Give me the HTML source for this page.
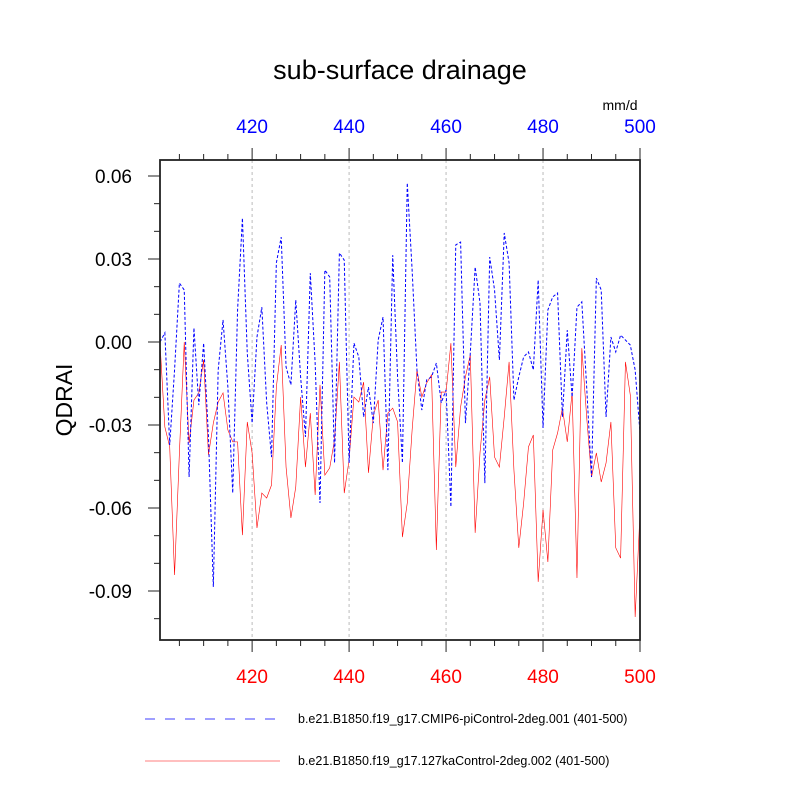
<!DOCTYPE html>
<html><head><meta charset="utf-8"><style>
html,body{margin:0;padding:0;background:#fff;}
svg{display:block;font-family:"Liberation Sans",sans-serif;}
</style></head><body>
<svg id="chart" width="800" height="800" viewBox="0 0 800 800">
<text x="400" y="79" text-anchor="middle" font-size="27">sub-surface drainage</text>
<text x="620" y="110" text-anchor="middle" font-size="14">mm/d</text>
<text transform="translate(72,400) rotate(-90)" text-anchor="middle" font-size="23">QDRAI</text>
<g id="grid"></g><g id="series"></g><g id="axes"></g>
<g>
<line x1="145" y1="719" x2="278" y2="719" stroke="#0000ff" stroke-width="0.8" stroke-dasharray="10,10"/>
<text x="298" y="723" font-size="12.5">b.e21.B1850.f19_g17.CMIP6-piControl-2deg.001 (401-500)</text>
<line x1="145" y1="761" x2="280" y2="761" stroke="#ff0000" stroke-width="0.6"/>
<text x="298" y="765" font-size="12.5">b.e21.B1850.f19_g17.127kaControl-2deg.002 (401-500)</text>
</g>
</svg>
<script>
const years = Array.from({length:100},(_,i)=>401+i);
const blueVals=[0,0.0033,-0.0372,-0.0101,0.0213,0.0188,-0.0488,0.0051,-0.0228,-0.0004,-0.0343,-0.0885,-0.0101,0.0080,-0.0163,-0.0546,0.0116,0.0448,-0.0040,-0.0293,0.0018,0.0126,-0.0220,-0.0416,0.0286,0.0379,-0.0090,-0.0155,0.0152,-0.0126,-0.0343,0.0249,-0.0076,-0.0582,0.0260,0.0235,-0.0437,0.0322,0.0296,-0.0437,-0.0004,-0.0054,-0.0271,-0.0163,-0.0293,0.0007,0.0090,-0.0463,0.0314,-0.0126,-0.0437,0.0575,0.0260,-0.0101,-0.0246,-0.0137,-0.0126,-0.0076,-0.0220,-0.0173,-0.0596,0.0351,0.0361,-0.0293,-0.0040,0.0271,0.0141,-0.0510,0.0307,0.0188,-0.0065,0.0394,0.0286,-0.0210,-0.0126,-0.0054,-0.0036,-0.0101,0.0224,-0.0311,0.0116,0.0163,0.0177,-0.0271,0.0043,-0.0199,0.0126,0.0145,-0.0163,-0.0488,0.0231,0.0188,-0.0271,0.0018,-0.0036,0.0025,0.0007,-0.0011,-0.0101,-0.0329];
const redVals=[-0.0004,-0.0307,-0.0379,-0.0842,-0.0401,0,-0.0365,-0.0210,-0.0184,-0.0065,-0.0408,-0.0293,-0.0217,-0.0184,-0.0318,-0.0361,-0.0361,-0.0698,-0.0289,-0.0401,-0.0672,-0.0546,-0.0564,-0.0517,-0.0163,-0.0011,-0.0452,-0.0636,-0.0524,-0.0199,-0.0452,-0.0257,-0.0553,-0.0155,-0.0481,-0.0455,-0.0354,-0.0072,-0.0546,-0.0426,-0.0199,-0.0217,-0.0145,-0.0473,-0.0264,-0.0210,-0.0463,-0.0257,-0.0239,-0.0289,-0.0705,-0.0582,-0.0318,-0.0101,-0.0199,-0.0148,-0.0119,-0.0752,-0.0181,-0.0181,-0.0004,-0.0452,-0.0235,-0.0126,-0.0047,-0.0690,-0.0401,-0.0210,-0.0126,-0.0416,-0.0452,-0.0271,-0.0072,-0.0463,-0.0744,-0.0582,-0.0379,-0.0336,-0.0867,-0.0607,-0.0795,-0.0390,-0.0329,-0.0239,-0.0361,-0.0181,-0.0853,-0.0022,-0.0271,-0.0488,-0.0401,-0.0506,-0.0437,-0.0289,-0.0744,-0.0781,-0.0072,-0.0192,-0.0994,-0.0618];
const xTicks=[420,440,460,480,500];
const yTicks=[0.06,0.03,0,-0.03,-0.06,-0.09];
const yTickLabels=["0.06","0.03","0.00","-0.03","-0.06","-0.09"];

const L=160,R=640,T=160,B=640;
const X=v=>L+(v-401)*(R-L)/99;
const Y=v=>342-(v)*(83/0.03);
const NS="http://www.w3.org/2000/svg";
function mk(tag,attrs,parent){const e=document.createElementNS(NS,tag);for(const k in attrs)e.setAttribute(k,attrs[k]);parent.appendChild(e);return e;}
const grid=document.getElementById('grid'),series=document.getElementById('series'),axes=document.getElementById('axes');

xTicks.forEach(t=>{
  const g=mk('line',{x1:X(t),x2:X(t),y1:T,y2:B,stroke:'#bbb','stroke-width':1,'stroke-dasharray':'3,3'},grid);
  
  
});
function path(vals,attrs,name){
  const d=vals.map((v,i)=>(i?'L':'M')+X(years[i]).toFixed(2)+','+Y(v).toFixed(2)).join('');
  const p=mk('path',Object.assign({d:d,fill:'none'},attrs),series);
  
  
}
path(redVals,{stroke:'#ff0000','stroke-width':0.6},'series-127ka-line');
path(blueVals,{stroke:'#0000ff','stroke-width':1,'stroke-dasharray':'3,2'},'series-cmip6-line');

const frame=mk('rect',{x:L,y:T,width:R-L,height:B-T,fill:'none',stroke:'#222','stroke-width':1.8},axes);


for(let yr=405;yr<=500;yr+=5){
  const major=yr%20===0, len=major?12:6;
  const a=mk('line',{x1:X(yr),x2:X(yr),y1:T,y2:T-len,stroke:'#222','stroke-width':1},axes);
  
  
  const b=mk('line',{x1:X(yr),x2:X(yr),y1:B,y2:B+len,stroke:'#222','stroke-width':1},axes);
  
  
}
for(let k=-10;k<=6;k++){
  const v=k/100, major=k%3===0, len=major?12:6;
  const a=mk('line',{x1:L,x2:L-len,y1:Y(v),y2:Y(v),stroke:'#222','stroke-width':1},axes);
  
  
}
xTicks.forEach(t=>{
  const a=mk('text',{x:X(t),y:133,'text-anchor':'middle','font-size':19,fill:'#0000ff'},axes);
  a.textContent=t;
  
  
  const b=mk('text',{x:X(t),y:683,'text-anchor':'middle','font-size':19,fill:'#ff0000'},axes);
  b.textContent=t;
  
  
});
yTicks.forEach((t,i)=>{
  const a=mk('text',{x:132,y:Y(t)+7,'text-anchor':'end','font-size':19},axes);
  a.textContent=yTickLabels[i];
  
  
});
</script>
</body></html>
